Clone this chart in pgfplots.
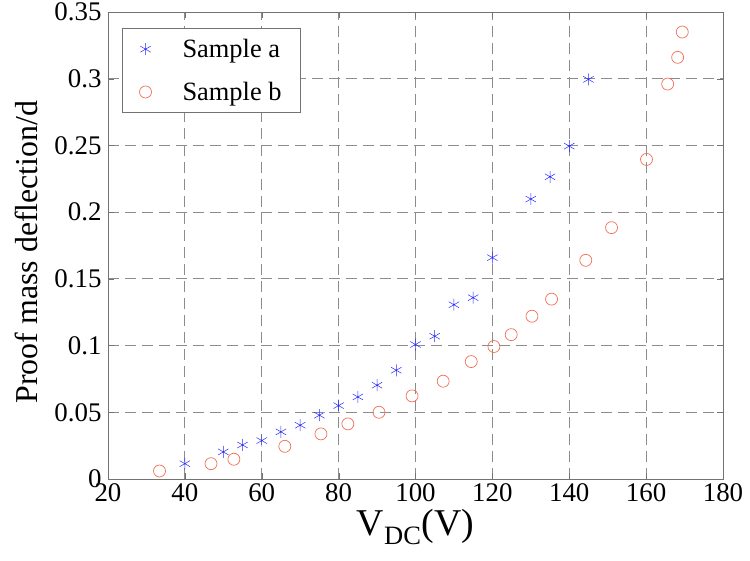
\documentclass[border=0pt]{standalone}
\usepackage{pgfplots}
\pgfplotsset{compat=1.18}
\usepackage{fontspec}
\setmainfont{Liberation Serif}
\definecolor{mblue}{RGB}{40,40,255}
\definecolor{mred}{RGB}{240,110,85}
\begin{document}
\begin{tikzpicture}
\begin{axis}[
  name=ax,
  scale only axis,
  width=615bp, height=467bp,
  xmin=20, xmax=180, ymin=0, ymax=0.35,
  xtick={20,40,...,180},
  ytick={0,0.05,0.1,0.15,0.2,0.25,0.3,0.35},
  yticklabels={0,0.05,0.1,0.15,0.2,0.25,0.3,0.35},
  scaled y ticks=false,
  /pgf/number format/assume math mode=true,
  tick label style={font=\rmfamily\fontsize{27}{27}\selectfont},
  xticklabel style={yshift=-1bp},
  yticklabel style={xshift=-3bp},
  tick align=inside,
  major tick length=6bp,
  axis line style={black!55},
  tick style={black!55},
  grid=major,
  major grid style={black!45, line width=0.9pt, dash pattern=on 11bp off 6bp},
  xlabel={V\textsubscript{DC}(V)},
  ylabel={Proof mass deflection/d},
  xlabel style={font=\rmfamily\fontsize{38}{38}\selectfont, at={(axis description cs:0.5,-0.12)}, anchor=base},
  ylabel style={font=\rmfamily\fontsize{32}{32}\selectfont, at={(axis description cs:-0.1333,0.486)}, anchor=center, rotate=0},
  legend style={at={(0.023,0.966)}, anchor=north west, draw=black!55, line width=0.8pt,
    font=\rmfamily\fontsize{26.5}{26.5}\selectfont, row sep=19bp, inner xsep=17bp, inner ysep=9bp,
    cells={anchor=west}},
  legend cell align=left,
]
\addplot[only marks, mark=asterisk, mark size=6bp, mblue, line width=0.5pt] coordinates {
(40,0.0115) (50,0.0203) (55,0.0255) (60,0.0288) (65,0.0353) (70,0.0403)
(75,0.0478) (80,0.055) (85,0.0615) (90,0.0703) (95,0.0815) (100,0.1008)
(105,0.107) (110,0.1306) (115,0.1359) (120,0.1659) (130,0.2098)
(135,0.2265) (140,0.2495) (145,0.2995)
};
\addlegendentry{\hspace{29bp}Sample a}
\addplot[only marks, mark=o, mark size=6bp, mred, line width=0.7pt] coordinates {
(33.4,0.006) (46.8,0.0115) (52.75,0.0148) (66.0,0.0245) (75.4,0.0338)
(82.4,0.0413) (90.5,0.05) (99.1,0.0623) (107.2,0.0733) (114.5,0.088)
(120.4,0.0993) (124.9,0.1082) (130.3,0.122) (135.4,0.1348) (144.3,0.1639)
(151.0,0.1884) (160.1,0.2395) (165.6,0.296) (168.2,0.316) (169.4,0.335)
};
\addlegendentry{\hspace{29bp}Sample b}
\end{axis}
\pgfresetboundingbox
\path ([xshift=-108bp,yshift=-82bp]ax.south west) rectangle ([xshift=27bp,yshift=12bp]ax.north east);
\end{tikzpicture}
\end{document}
